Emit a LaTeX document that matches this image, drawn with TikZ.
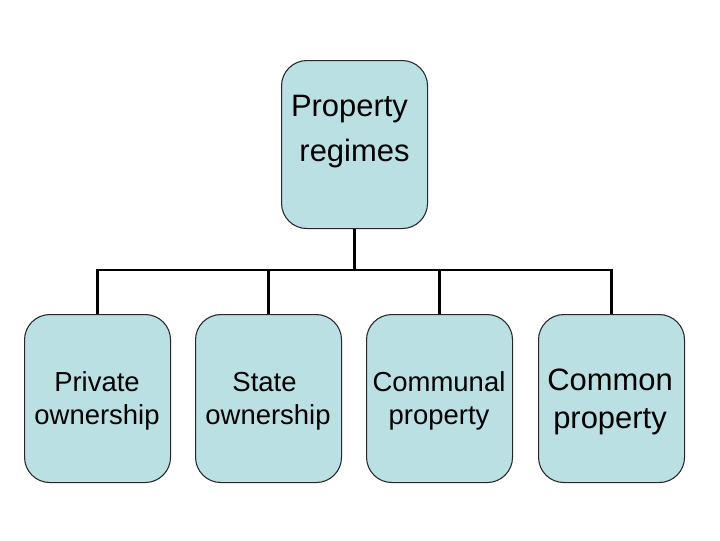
\documentclass[tikz,border=0pt]{standalone}
\usepackage{fontspec}
\setmainfont{Liberation Sans}
\definecolor{boxfill}{RGB}{187,224,227}
\definecolor{boxline}{RGB}{40,40,40}
\begin{document}
\begin{tikzpicture}[x=0.75pt,y=-0.75pt,
  box/.style={draw=boxline,line width=0.8pt,fill=boxfill,rounded corners=19pt,
    minimum width=109.5pt,minimum height=126pt,inner sep=0pt,anchor=north west},
  conn/.style={line width=1.6pt,black},
  small/.style={font=\fontsize{20.6}{24}\selectfont,anchor=base,inner sep=0pt},
  big/.style={font=\fontsize{23.2}{28}\selectfont,anchor=base,inner sep=0pt}]
\useasboundingbox (0,0) rectangle (720,540);
\node[box] (top) at (281,60) {};
\node[box] (c1) at (24,314) {};
\node[box] (c2) at (195,314) {};
\node[box] (c3) at (366,314) {};
\node[box] (c4) at (538,314) {};
\coordinate (j) at (top.south |- 0,270);
\draw[conn] (top.south) -- (j);
\foreach \c in {c1,c2,c3,c4}{\draw[conn] (j) -| (\c.north);}
\node[big] (t1) at (349.5,116) {Property};
\node[big] (t2) at (354.5,161) {regimes};
\node[small] (a1) at (97,391) {Private};
\node[small] (a2) at (97,424) {ownership};
\node[small] (b1) at (264.5,391) {State};
\node[small] (b2) at (268,424) {ownership};
\node[small] (d1) at (439,391) {Communal};
\node[small] (d2) at (439,424) {property};
\node[big] (e1) at (610,390) {Common};
\node[big] (e2) at (610,428) {property};
\end{tikzpicture}
\end{document}
